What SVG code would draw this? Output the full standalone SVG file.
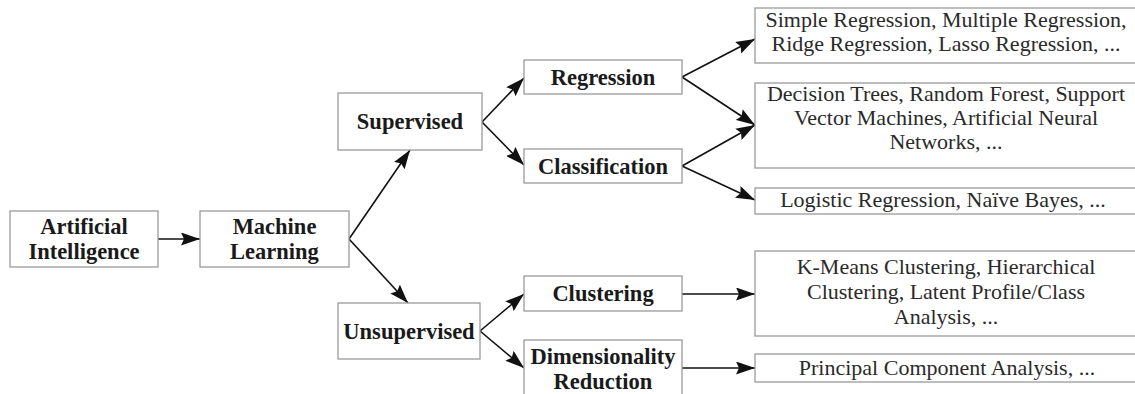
<svg xmlns="http://www.w3.org/2000/svg" width="1135" height="394" viewBox="0 0 1135 394">
<style>
.box{fill:#fff;stroke:#9a9a9a;stroke-width:1.3}
.nb{font-family:"Liberation Serif",serif;font-weight:bold;font-size:22.5px;fill:#1a1a1a;text-anchor:middle}
.lt{font-family:"Liberation Serif",serif;font-size:22px;fill:#2a2a2a;text-anchor:middle}
.cn{stroke:#111;stroke-width:1.6;fill:none;marker-end:url(#ah)}
</style>
<defs>
<marker id="ah" viewBox="0 0 19 13" refX="19" refY="6.5" markerWidth="19" markerHeight="13" markerUnits="userSpaceOnUse" orient="auto">
<path d="M0,0 L19,6.5 L0,13 L3,6.5 Z" fill="#111"/>
</marker>
</defs>
<rect width="1135" height="394" fill="#fff"/>
<g id="connectors">
<line class="cn" x1="158" y1="239" x2="200" y2="239"/>
<line class="cn" x1="349" y1="239" x2="410" y2="150"/>
<line class="cn" x1="349" y1="239" x2="408" y2="303"/>
<line class="cn" x1="482" y1="122" x2="524" y2="78"/>
<line class="cn" x1="482" y1="122" x2="524" y2="165"/>
<line class="cn" x1="682" y1="77" x2="755" y2="39"/>
<line class="cn" x1="682" y1="77" x2="755" y2="125"/>
<line class="cn" x1="682" y1="166" x2="755" y2="125"/>
<line class="cn" x1="682" y1="166" x2="755" y2="200"/>
<line class="cn" x1="480" y1="331" x2="524" y2="294"/>
<line class="cn" x1="480" y1="331" x2="524" y2="368"/>
<line class="cn" x1="682" y1="294" x2="755" y2="294"/>
<line class="cn" x1="682" y1="368" x2="755" y2="368"/>
</g>
<g id="ai"><rect class="box" x="10" y="211" width="148" height="56"/><text class="nb" x="84" y="233.5">Artificial</text><text class="nb" x="84" y="258.5">Intelligence</text></g>
<g id="ml"><rect class="box" x="200" y="211" width="149" height="56"/><text class="nb" x="274.5" y="233.5">Machine</text><text class="nb" x="274.5" y="258.5">Learning</text></g>
<g id="supervised"><rect class="box" x="338" y="93" width="144" height="57"/><text class="nb" x="410" y="129">Supervised</text></g>
<g id="unsupervised"><rect class="box" x="338" y="303" width="142" height="56"/><text class="nb" x="409" y="338.5">Unsupervised</text></g>
<g id="regression"><rect class="box" x="524" y="60" width="158" height="34"/><text class="nb" x="603" y="84.5">Regression</text></g>
<g id="classification"><rect class="box" x="524" y="149" width="158" height="34"/><text class="nb" x="603" y="173.5">Classification</text></g>
<g id="clustering"><rect class="box" x="524" y="276" width="158" height="35"/><text class="nb" x="603" y="301">Clustering</text></g>
<g id="dimred"><rect class="box" x="524" y="340" width="158" height="60"/><text class="nb" x="603" y="364">Dimensionality</text><text class="nb" x="603" y="389">Reduction</text></g>
<g id="regmethods"><rect class="box" x="755" y="8" width="390" height="55"/><text class="lt" x="946" y="27">Simple Regression, Multiple Regression,</text><text class="lt" x="946" y="51">Ridge Regression, Lasso Regression, ...</text></g>
<g id="shared"><rect class="box" x="755" y="83" width="390" height="85"/><text class="lt" x="946" y="101">Decision Trees, Random Forest, Support</text><text class="lt" x="946" y="125">Vector Machines, Artificial Neural</text><text class="lt" x="946" y="149">Networks, ...</text></g>
<g id="clsmethods"><rect class="box" x="755" y="188" width="390" height="26"/><text class="lt" x="943" y="207">Logistic Regression, Naïve Bayes, ...</text></g>
<g id="clustmethods"><rect class="box" x="755" y="251" width="390" height="85"/><text class="lt" x="946" y="274">K-Means Clustering, Hierarchical</text><text class="lt" x="946" y="299">Clustering, Latent Profile/Class</text><text class="lt" x="946" y="324">Analysis, ...</text></g>
<g id="drmethods"><rect class="box" x="755" y="354" width="390" height="28"/><text class="lt" x="947" y="375">Principal Component Analysis, ...</text></g>
</svg>
